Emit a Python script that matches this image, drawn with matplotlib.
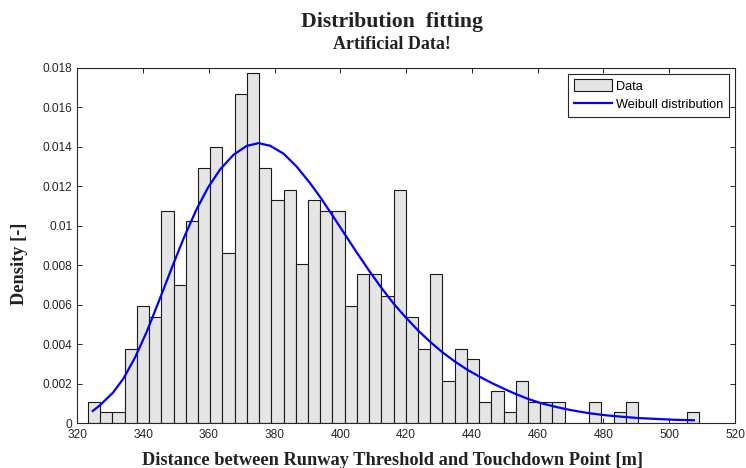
import numpy as np
import matplotlib
matplotlib.use("Agg")
import matplotlib.pyplot as plt

# ---- data ----
bin_start = 323.25
bin_width = 3.717
counts = [2, 1, 1, 7, 11, 10, 20, 13, 19, 24,
          26, 16, 31, 33, 24, 21, 22, 15, 21, 20,
          20, 11, 14, 14, 12, 22, 10, 7, 14, 4,
          7, 6, 2, 3, 1, 4, 2, 2, 2, 0,
          0, 2, 0, 1, 2, 0, 0, 0, 0, 1]

curve_x = [324.7, 326.9, 330.9, 334.0, 337.5, 341.1, 345.1, 348.7, 352.3, 356.3,
           359.8, 363.4, 367.5, 371.5, 375.1, 378.6, 382.7, 386.7, 390.8, 394.0,
           397.7, 401.5, 405.0, 408.7, 412.4, 416.2, 420.0, 423.7, 427.4, 431.0,
           434.8, 438.5, 442.3, 446.0, 449.7, 453.3, 457.1, 460.9, 464.7, 468.4,
           472.2, 475.9, 479.7, 483.3, 486.9, 490.7, 494.5, 498.2, 502.0, 507.5]
curve_y = [0.00061, 0.00090, 0.00155, 0.00225, 0.00330, 0.00462, 0.00630, 0.00785, 0.00935, 0.01085,
           0.01195, 0.01285, 0.01360, 0.01405, 0.01419, 0.01406, 0.01366, 0.01300, 0.01216, 0.01142,
           0.01050, 0.00953, 0.00864, 0.00773, 0.00687, 0.00605, 0.00533, 0.00468, 0.00410, 0.00359,
           0.00312, 0.00271, 0.00235, 0.00203, 0.00174, 0.00147, 0.00122, 0.00101, 0.00085, 0.00071,
           0.00059, 0.00049, 0.00041, 0.00035, 0.00030, 0.00025, 0.00022, 0.00019, 0.00016, 0.00014]

x_ticks = [320, 340, 360, 380, 400, 420, 440, 460, 480, 500, 520]
y_ticks = [0, 0.002, 0.004, 0.006, 0.008, 0.01, 0.012, 0.014, 0.016, 0.018]
y_tick_labels = ["0", "0.002", "0.004", "0.006", "0.008", "0.01", "0.012", "0.014", "0.016", "0.018"]

title = "Distribution  fitting"
subtitle = "Artificial Data!"
xlabel = "Distance between Runway Threshold and Touchdown Point [m]"
ylabel = "Density [-]"

# ---- figure ----
W, H = 746, 468
fig = plt.figure(figsize=(W / 100, H / 100), dpi=100)
ax = fig.add_axes([77.3 / W, 1 - 423 / H, (735 - 77.3) / W, (423 - 68) / H])

n_total = sum(counts)
density = [c / (n_total * bin_width) for c in counts]
lefts = [bin_start + i * bin_width for i in range(len(counts))]

bars = ax.bar(lefts, density, width=bin_width, align="edge", color="#e5e5e5",
              edgecolor="#1a1a1a", linewidth=0.8, label="Data", zorder=2)
line, = ax.plot(curve_x, curve_y, color="#0000ff", linewidth=1.6,
                label="Weibull distribution", zorder=3)

ax.set_xlim(320, 520)
ax.set_ylim(0, 0.018)
ax.set_xticks(x_ticks)
ax.set_xticklabels([str(t) for t in x_ticks])
ax.set_yticks(y_ticks)
ax.set_yticklabels(y_tick_labels)

axcol = "#262626"
for s in ax.spines.values():
    s.set_color(axcol)
    s.set_linewidth(0.8)
ax.tick_params(direction="in", length=3.6, width=0.7, top=True, right=True,
               colors=axcol, labelsize=8.6)
ax.tick_params(axis="x", pad=4.6)
ax.tick_params(axis="y", pad=3.5)
for lab in ax.get_xticklabels() + ax.get_yticklabels():
    lab.set_family("Liberation Sans")

leg = ax.legend([bars, line], ["Data", "Weibull distribution"], loc="upper right",
                prop={"family": "Liberation Sans", "size": 9.2},
                fancybox=False, framealpha=1, edgecolor=axcol, handlelength=3.0,
                handleheight=1.0, handletextpad=0.3, borderpad=0.45,
                borderaxespad=0.45, labelspacing=0.4)
leg.get_frame().set_linewidth(0.8)

serif = "Liberation Serif"
tcol = "#222222"
cx = 392 / W
fig.text(cx, 1 - 26.7 / H, title, ha="center", va="baseline", fontsize=15.7,
         weight="bold", family=serif, color=tcol)
fig.text(cx, 1 - 49.3 / H, subtitle, ha="center", va="baseline", fontsize=13,
         weight="bold", family=serif, color=tcol)
fig.text(cx, 1 - 465 / H, xlabel, ha="center", va="baseline", fontsize=13.2,
         weight="bold", family=serif, color=tcol)
fig.text(20 / W, 1 - 264 / H, ylabel, ha="center", va="center", rotation=90,
         fontsize=13.2, weight="bold", family=serif, color=tcol)

fig.savefig("out.png", dpi=100)
